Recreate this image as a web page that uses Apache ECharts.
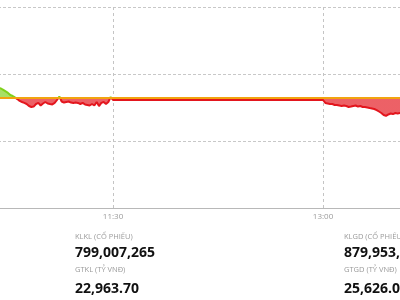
<!DOCTYPE html>
<html>
<head>
<meta charset="utf-8">
<script src="https://cdn.jsdelivr.net/npm/echarts@6/dist/echarts.min.js"></script>
<style>html,body{margin:0;padding:0;background:#fff}#c{width:400px;height:300px}</style>
</head>
<body>
<div id="c"></div>
<script>
// time in minutes since 8:30
var morningTimes = [131,132,133,134,135,136,137,138,139,140,141,142,143,144,145,146,147,148,149,150,151,152,153,154,155,156,157,158,159,160,161,162,163,164,165,166,167,168,169,170,171,172,173,174,175,176,177,178,179,180];
var morningValues = [1278.96,1278.92,1278.81,1278.70,1278.59,1278.43,1278.36,1278.25,1278.13,1277.99,1277.91,1277.84,1277.76,1277.61,1277.54,1277.57,1277.76,1277.84,1277.65,1277.80,1277.91,1277.80,1277.76,1277.73,1277.84,1278.06,1278.32,1277.95,1277.87,1277.91,1277.95,1277.87,1277.84,1277.87,1277.84,1277.76,1277.84,1277.73,1277.69,1277.65,1277.76,1277.65,1277.91,1277.61,1277.84,1277.91,1277.76,1277.91,1278.28,1278.06];
var afternoonTimes = [270,271,272,273,274,275,276,277,278,279,280,281,282,283,284,285,286,287,288,289,290,291,292,293,294,295,296,297,298,299,300,301,302,303,304];
var afternoonValues = [1278.06,1277.84,1277.80,1277.76,1277.76,1277.69,1277.69,1277.65,1277.61,1277.65,1277.61,1277.54,1277.57,1277.61,1277.65,1277.57,1277.61,1277.54,1277.54,1277.50,1277.46,1277.43,1277.39,1277.31,1277.20,1277.09,1276.94,1276.87,1276.98,1277.05,1277.01,1277.09,1277.05,1277.09,1277.09];
var referenceValue = 1278.2;
var statLabels = ['KLKL (CỔ PHIẾU)', 'GTKL (TỶ VNĐ)', 'KLGD (CỔ PHIẾU)', 'GTGD (TỶ VNĐ)'];
var statValues = ['799,007,265', '22,963.70', '879,953,085', '25,626.03'];

var seriesData = [];
morningTimes.forEach(function(t, i){ seriesData.push([t, morningValues[i]]); });
afternoonTimes.forEach(function(t, i){ seriesData.push([t, afternoonValues[i]]); });

function fmt(v){ var m = v + 510; var h = Math.floor(m/60), mm = m % 60; return h + ':' + (mm < 10 ? '0' : '') + mm; }

var chart = echarts.init(document.getElementById('c'), null, {renderer:'canvas'});
var labelFont = {fontFamily:'Open Sans', fontSize:7.5, fill:'#9a9a9a'};
var valueFont = {fontFamily:'Open Sans', fontSize:14, fontWeight:'bold', fill:'#111'};
chart.setOption({
  animation:false,
  grid:{left:-97, right:-133, top:7, bottom:92, containLabel:false, outerBoundsMode:'none'},
  xAxis:{
    type:'value', min:90, max:360, interval:90,
    axisLine:{show:true, lineStyle:{color:'#b8b8b8', width:1}},
    axisTick:{show:false},
    axisLabel:{show:true, color:'#9a9a9a', fontSize:8, fontFamily:'Open Sans', margin:5, formatter:function(v){return fmt(v);}},
    splitLine:{show:true, lineStyle:{color:'#c4c4c4', type:[3,3], width:1}}
  },
  yAxis:{
    type:'value', min:1270, max:1285, interval:5,
    axisLine:{show:false}, axisTick:{show:false}, axisLabel:{show:false},
    splitLine:{show:true, lineStyle:{color:'#c8c8c8', type:[3,2], width:1}}
  },
  visualMap:{
    show:false, type:'piecewise', dimension:1, seriesIndex:0,
    pieces:[{gte:1200, lte:referenceValue, color:'#e3161e'},{gt:referenceValue, lte:1400, color:'#7fd11b'}]
  },
  series:[{
    type:'line', data:seriesData, symbol:'none', smooth:false,
    lineStyle:{width:2},
    areaStyle:{origin:referenceValue, opacity:0.68}
  },{
    type:'line', data:[[90, referenceValue],[360, referenceValue]], symbol:'none', silent:true,
    lineStyle:{color:'#f2a30f', width:2}, z:3
  }],
  graphic:[
    {type:'text', left:75, top:233, style:Object.assign({text:statLabels[0]}, labelFont)},
    {type:'text', left:75, top:246, style:Object.assign({text:statValues[0]}, valueFont)},
    {type:'text', left:75, top:266, style:Object.assign({text:statLabels[1]}, labelFont)},
    {type:'text', left:75, top:282, style:Object.assign({text:statValues[1]}, valueFont)},
    {type:'text', left:344, top:233, style:Object.assign({text:statLabels[2]}, labelFont)},
    {type:'text', left:344, top:246, style:Object.assign({text:statValues[2]}, valueFont)},
    {type:'text', left:344, top:266, style:Object.assign({text:statLabels[3]}, labelFont)},
    {type:'text', left:344, top:282, style:Object.assign({text:statValues[3]}, valueFont)}
  ]
});
</script>
</body>
</html>
